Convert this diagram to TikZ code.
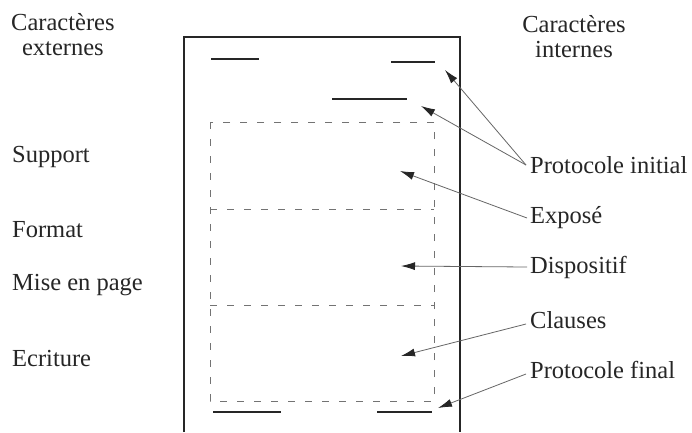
\documentclass[tikz,border=0pt]{standalone}
\usepackage{fontspec}
\setmainfont{Liberation Serif}
\usetikzlibrary{arrows.meta}
\begin{document}
\begin{tikzpicture}[x=1pt,y=-1pt,
  lbl/.style={font=\fontsize{24.5}{25}\selectfont, inner sep=0pt, text=black!85},
  bar/.style={line width=2.6pt, black!85},
  dashline/.style={draw=black!55, line width=0.8pt, dash pattern=on 7pt off 10pt},
  arr/.style={draw=black!60, line width=0.8pt, -{Latex[length=14pt,width=8pt,color=black!85]}}]
\useasboundingbox[fill=white] (0,0) rectangle (692,432);
% page frame
\draw[line width=1.4pt, black!85] (184,432) -- (184,37) -- (460,37) -- (460,432);
% solid bars
\draw[bar] (211,59) -- (259,59);
\draw[bar] (391,62) -- (435,62);
\draw[bar] (332,99) -- (407,99);
\draw[bar] (213,412) -- (281,412);
\draw[bar] (377,412) -- (432,412);
% dashed frame
\draw[dashline] (210,122) rectangle (434,401);
\draw[dashline] (210,209) -- (434,209);
\draw[dashline] (210,305) -- (434,305);
% left labels
\node[lbl, align=center, anchor=north west] (ext) at (11,13) {Caractères\\externes};
\node[lbl, anchor=west] (sup) at (12,157) {Support};
\node[lbl, anchor=west] (fmt) at (12,230) {Format};
\node[lbl, anchor=west] (mep) at (12,285) {Mise en page};
\node[lbl, anchor=west] (ecr) at (12,358) {Ecriture};
% right labels
\node[lbl, align=center, anchor=north] (int) at (574,15) {Caractères\\internes};
\node[lbl, anchor=west] (pi) at (530,165) {Protocole initial};
\node[lbl, anchor=west] (ex) at (530,218) {Exposé};
\node[lbl, anchor=west] (di) at (530,267) {Dispositif};
\node[lbl, anchor=west] (cl) at (530,320) {Clauses};
\node[lbl, anchor=west] (pf) at (530,370) {Protocole final};
% arrow targets
\coordinate (t1) at (445,70);
\coordinate (t2) at (421,106);
\coordinate (t3) at (400,171);
\coordinate (t4) at (401,266);
\coordinate (t5) at (401,356);
\coordinate (t6) at (438,408);
% arrows
\draw[arr] ([xshift=-4pt]pi.west) -- (t1);
\draw[arr] ([xshift=-4pt]pi.west) -- (t2);
\draw[arr] ([xshift=-3pt]ex.west) -- (t3);
\draw[arr] ([xshift=-3pt]di.west) -- (t4);
\draw[arr] ([xshift=-4pt,yshift=-4pt]cl.west) -- (t5);
\draw[arr] ([xshift=-4pt,yshift=-4pt]pf.west) -- (t6);
\end{tikzpicture}
\end{document}
